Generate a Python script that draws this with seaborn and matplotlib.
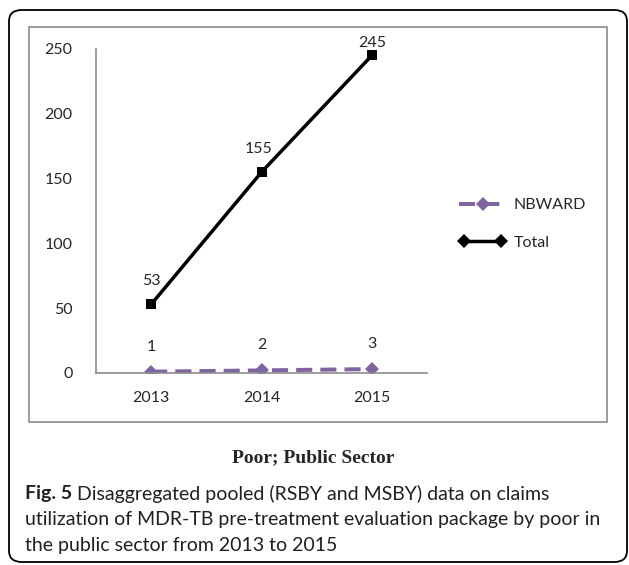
import numpy as np
import pandas as pd
import matplotlib
matplotlib.use("Agg")
import matplotlib.pyplot as plt
from matplotlib.patches import FancyBboxPatch, Rectangle
from matplotlib.lines import Line2D
from matplotlib.legend_handler import HandlerLine2D
import seaborn as sns

# ── DATA ──────────────────────────────────────────────────────────────
years        = [2013, 2014, 2015]
nbward       = [1, 2, 3]
total        = [53, 155, 245]
series_names = ["NBWARD", "Total"]
y_ticks      = [0, 50, 100, 150, 200, 250]

df = pd.DataFrame({
    "Year":   years * 2,
    "Claims": nbward + total,
    "Series": [series_names[0]] * 3 + [series_names[1]] * 3,
})

purple = "#8064A2"
grey   = "#8C8C8C"

sns.set_style("white")
plt.rcParams["font.family"] = ["Lato", "DejaVu Sans"]

W, H = 629, 565
fig = plt.figure(figsize=(W / 100, H / 100), dpi=100)

# pixel -> figure coords
def fx(px): return px / W
def fy(py): return 1 - py / H

# outer rounded frame + inner chart box
fig.patches.append(FancyBboxPatch((fx(9), fy(562)), fx(618), (562 - 10) / H,
                                  boxstyle="round,pad=0,rounding_size=0.02",
                                  transform=fig.transFigure, fill=False,
                                  edgecolor="black", linewidth=1.3))
fig.patches.append(Rectangle((fx(29), fy(422)), fx(607 - 29), (422 - 27) / H,
                             transform=fig.transFigure, fill=False,
                             edgecolor=grey, linewidth=1.2))

ax = fig.add_axes([fx(96), fy(373), fx(427 - 96), (373 - 49) / H])

sns.lineplot(data=df, x="Year", y="Claims", hue="Series", style="Series",
             palette={"NBWARD": purple, "Total": "black"},
             markers={"NBWARD": "D", "Total": "s"},
             dashes={"NBWARD": (4, 2), "Total": ""},
             linewidth=2.6, markersize=7, markeredgewidth=0,
             legend=False, ax=ax)
for ln in ax.lines:
    if ln.get_color() == "black":
        ln.set_linewidth(2.5)
        ln.set_markersize(6.5)
    else:
        ln.set_linewidth(2.9)
        ln.set_markersize(7.5)

ax.set_xlim(2012.5, 2015.5)
ax.set_ylim(0, 250)
ax.set_yticks(y_ticks)
ax.set_xticks([2012.5, 2013.5, 2014.5, 2015.5])
ax.set_xticklabels([])
ax.set_xticks(years, minor=True)
ax.set_xticklabels([str(y) for y in years], minor=True)
ax.tick_params(axis="x", which="major", length=6, width=1, color=grey, direction="out")
ax.tick_params(axis="x", which="minor", length=0, pad=13, labelsize=11.5)
ax.tick_params(axis="y", length=5, width=1, color=grey, direction="out", pad=12,
               labelsize=11.5)
ax.set_xlabel("")
ax.set_ylabel("")
for s in ["top", "right"]:
    ax.spines[s].set_visible(False)
for s in ["left", "bottom"]:
    ax.spines[s].set_color(grey)
    ax.spines[s].set_linewidth(1.2)
ax.patch.set_alpha(0)

# data labels
total_offsets = [(0, 17), (-2, 17), (0, 9)]
for x, v, off in zip(years, total, total_offsets):
    ax.annotate(str(v), (x, v), xytext=off, textcoords="offset points",
                ha="center", va="center", fontsize=11.5)
for x, v in zip(years, nbward):
    ax.annotate(str(v), (x, v), xytext=(0, 18), textcoords="offset points",
                ha="center", va="center", fontsize=11.5)

# legend
h_nb = Line2D([], [], color=purple, lw=2.9, dashes=(4, 2), marker="D",
              markersize=7.5, markeredgewidth=0)
h_tot = Line2D([], [], color="black", lw=2.5, marker="D",
               markersize=7.5, markeredgewidth=0)
leg = fig.legend([h_nb, h_tot], series_names, loc="center left",
                 bbox_to_anchor=(fx(445), fy(224)), frameon=False,
                 fontsize=11.5, handlelength=2.9, handletextpad=0.5,
                 labelspacing=1.45,
                 handler_map={h_nb: HandlerLine2D(numpoints=1),
                              h_tot: HandlerLine2D(numpoints=2)})

# chart title + caption
fig.text(fx(313), fy(458), "Poor; Public Sector", ha="center", va="center",
         fontsize=14, fontweight="bold", family="Liberation Serif")
cap_lines = [
    "Disaggregated pooled (RSBY and MSBY) data on claims",
    "utilization of MDR-TB pre-treatment evaluation package by poor in",
    "the public sector from 2013 to 2015",
]
cap_y = [494, 520, 546]
t = fig.text(fx(25), fy(cap_y[0]), "Fig. 5", ha="left", va="center",
             fontsize=14, fontweight="bold", color="#231F20")
fig.canvas.draw()
bb = t.get_window_extent()
fig.text(bb.x1 / W + fx(5), fy(cap_y[0]), cap_lines[0], ha="left", va="center",
         fontsize=14, color="#231F20")
fig.text(fx(25), fy(cap_y[1]), cap_lines[1], ha="left", va="center",
         fontsize=14, color="#231F20")
fig.text(fx(25), fy(cap_y[2]), cap_lines[2], ha="left", va="center",
         fontsize=14, color="#231F20")

fig.savefig("out.png", dpi=100)
